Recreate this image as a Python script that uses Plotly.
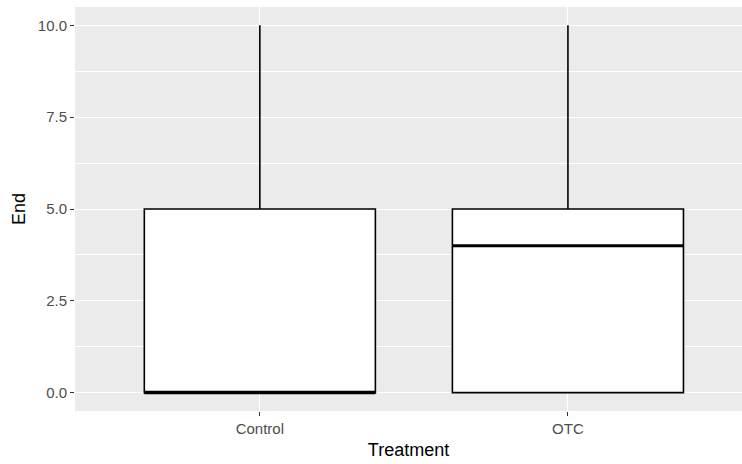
import plotly.graph_objects as go

# Box summary statistics per treatment group
treatments = ["Control", "OTC"]
positions = [1, 2]
q1_vals = [0, 0]
median_vals = [0, 4]
q3_vals = [5, 5]
lower_vals = [0, 0]
upper_vals = [10, 10]

y_tickvals = [0, 2.5, 5, 7.5, 10]
y_ticktext = ["0.0", "2.5", "5.0", "7.5", "10.0"]

box_width = 0.75
line_col = "black"

fig = go.Figure()

fig.add_trace(go.Box(
    x=positions,
    q1=q1_vals,
    median=median_vals,
    q3=q3_vals,
    lowerfence=lower_vals,
    upperfence=upper_vals,
    width=box_width,
    whiskerwidth=0,
    fillcolor="white",
    line=dict(color=line_col, width=1.6),
    boxpoints=False,
    showlegend=False,
    hoverinfo="skip",
))

# Thicker median segments drawn on top of each box
for xp, med in zip(positions, median_vals):
    fig.add_trace(go.Scatter(
        x=[xp - box_width / 2, xp + box_width / 2],
        y=[med, med],
        mode="lines",
        line=dict(color=line_col, width=3.2),
        showlegend=False,
        hoverinfo="skip",
    ))

font_family = "Liberation Sans, Arial, sans-serif"

fig.update_layout(
    width=742,
    height=464,
    margin=dict(l=75, r=0, t=7, b=53),
    paper_bgcolor="white",
    plot_bgcolor="#EBEBEB",
    font=dict(family=font_family, color="#4D4D4D", size=15),
    xaxis=dict(
        range=[0.4, 2.565],
        tickvals=positions,
        ticktext=treatments,
        ticks="outside",
        ticklen=4,
        tickwidth=1,
        tickcolor="#333333",
        showgrid=True,
        gridcolor="white",
        gridwidth=1.1,
        zeroline=False,
        showline=False,
        tickfont=dict(size=15, color="#4D4D4D"),
        title=dict(text="Treatment", font=dict(size=18, color="black"), standoff=7),
    ),
    yaxis=dict(
        range=[-0.5, 10.5],
        tickvals=y_tickvals,
        ticktext=y_ticktext,
        ticks="outside",
        ticklen=4,
        tickwidth=1,
        tickcolor="#333333",
        showgrid=True,
        gridcolor="white",
        gridwidth=1.1,
        zeroline=False,
        showline=False,
        tickfont=dict(size=15, color="#4D4D4D"),
        minor=dict(tick0=0, dtick=1.25, showgrid=True, gridcolor="white", gridwidth=0.5, ticks=""),
        title=dict(text="End", font=dict(size=18, color="black"), standoff=7),
    ),
)

fig.write_html("out.html")
